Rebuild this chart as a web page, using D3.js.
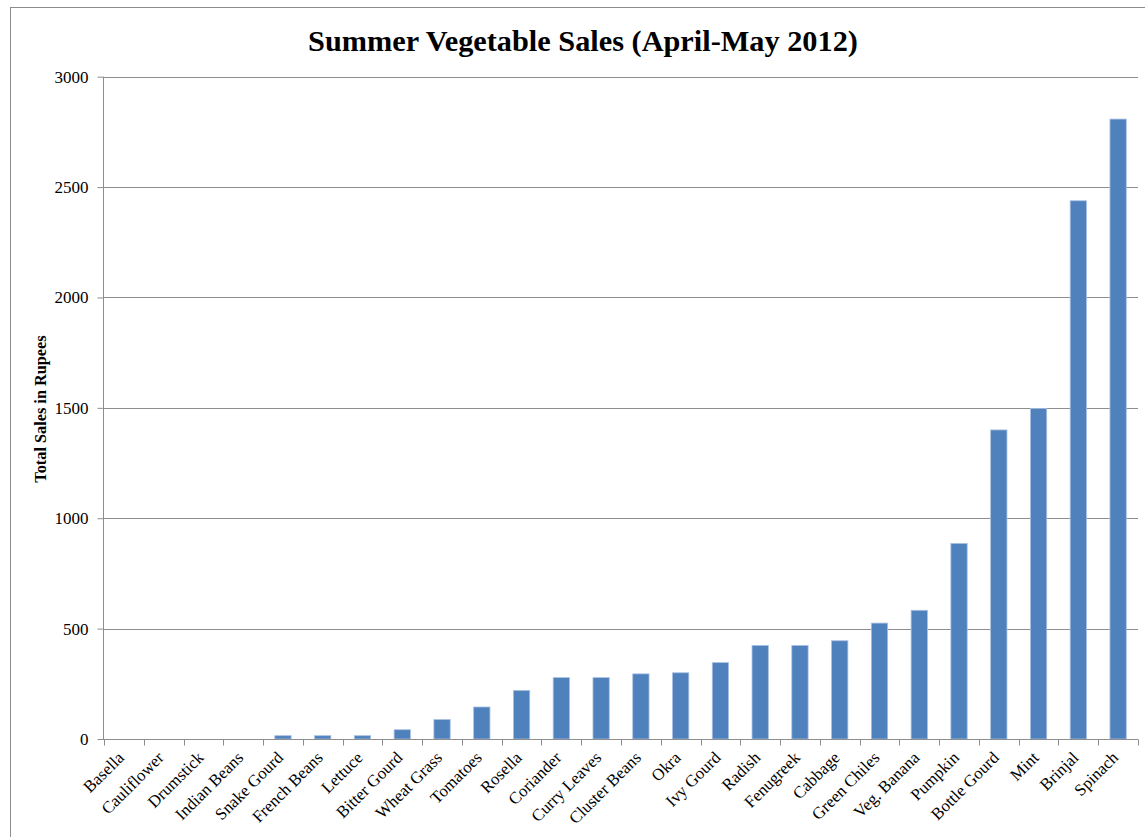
<!DOCTYPE html>
<html>
<head>
<meta charset="utf-8">
<script src="https://cdn.jsdelivr.net/npm/d3@7"></script>
<style>
  body { margin: 0; background: #fff; }
  svg text { font-family: "Liberation Serif", "Times New Roman", serif; }
</style>
</head>
<body>
<div class="graph-container"></div>
<script>
var vegetables = ['Basella', 'Cauliflower', 'Drumstick', 'Indian Beans', 'Snake Gourd', 'French Beans',
  'Lettuce', 'Bitter Gourd', 'Wheat Grass', 'Tomatoes', 'Rosella', 'Coriander', 'Curry Leaves',
  'Cluster Beans', 'Okra', 'Ivy Gourd', 'Radish', 'Fenugreek', 'Cabbage', 'Green Chiles',
  'Veg. Banana', 'Pumpkin', 'Bottle Gourd', 'Mint', 'Brinjal', 'Spinach'];
var sales = [0, 0, 0, 0, 15, 15, 15, 42, 88, 145, 220, 278, 278, 295, 300, 346, 424, 424, 445,
  525, 583, 886, 1400, 1497, 2438, 2808];
var yTicks = [0, 500, 1000, 1500, 2000, 2500, 3000];

var svgWidth = 1145;
var svgHeight = 837;
var plotLeft = 104;
var plotRight = 1138;
var plotTop = 76.7;
var plotBottom = 739;

var svg = d3.select('.graph-container').append('svg')
  .attr('width', svgWidth)
  .attr('height', svgHeight);

// chart border
svg.append('rect')
  .attr('x', 10.5)
  .attr('y', 7.5)
  .attr('width', 1200)
  .attr('height', 900)
  .attr('fill', 'none')
  .attr('stroke', '#8c8c8c')
  .attr('stroke-width', 1);

var xScale = d3.scaleBand()
  .domain(vegetables)
  .range([plotLeft, plotRight])
  .paddingInner(0.59)
  .paddingOuter(0.295);

var yScale = d3.scaleLinear()
  .domain([0, 3000])
  .range([plotBottom, plotTop]);

// gridlines
svg.append('g')
  .selectAll('line')
  .data(yTicks.slice(1))
  .enter()
  .append('line')
  .attr('x1', plotLeft)
  .attr('x2', plotRight)
  .attr('y1', function(d) { return Math.round(yScale(d)) + 0.5; })
  .attr('y2', function(d) { return Math.round(yScale(d)) + 0.5; })
  .attr('stroke', '#8e8e8e')
  .attr('stroke-width', 1);

// bars
svg.append('g')
  .selectAll('rect')
  .data(sales)
  .enter()
  .append('rect')
  .attr('x', function(d, i) { return xScale(vegetables[i]); })
  .attr('width', xScale.bandwidth())
  .attr('y', function(d) { return yScale(d); })
  .attr('height', function(d) { return plotBottom - yScale(d); })
  .attr('fill', '#4f81bd')
  .attr('stroke', function(d) { return d > 0 ? '#a9c1e2' : 'none'; })
  .attr('stroke-width', 0.8);

// y axis
var yAxis = d3.axisLeft(yScale)
  .tickValues(yTicks)
  .tickSize(6)
  .tickPadding(9)
  .tickFormat(d3.format('d'));
var yAxisG = svg.append('g')
  .attr('transform', 'translate(' + (plotLeft - 0.5) + ',0)')
  .call(yAxis);
yAxisG.select('.domain').attr('stroke', '#8e8e8e').attr('d', 'M0,' + plotTop + 'V' + plotBottom);
yAxisG.selectAll('.tick line').attr('stroke', '#8e8e8e');
yAxisG.selectAll('.tick text')
  .style('font-family', '"Liberation Serif", serif')
  .style('font-size', '17px')
  .attr('fill', '#000');

// x axis with boundary ticks
var xAxisG = svg.append('g')
  .attr('transform', 'translate(0,' + (plotBottom + 0.5) + ')');
xAxisG.append('line')
  .attr('x1', plotLeft - 6)
  .attr('x2', plotRight)
  .attr('stroke', '#8e8e8e');
var step = xScale.step();
var bounds = d3.range(vegetables.length + 1).map(function(i) {
  return plotLeft + i * step;
});
xAxisG.selectAll('.xtick')
  .data(bounds)
  .enter()
  .append('line')
  .attr('class', 'xtick')
  .attr('x1', function(d) { return Math.round(d) + 0.5; })
  .attr('x2', function(d) { return Math.round(d) + 0.5; })
  .attr('y1', 0)
  .attr('y2', 6)
  .attr('stroke', '#8e8e8e');

xAxisG.selectAll('.xlabel')
  .data(vegetables)
  .enter()
  .append('text')
  .attr('class', 'xlabel')
  .attr('transform', function(d) {
    return 'translate(' + (xScale(d) + xScale.bandwidth() / 2 - 3) + ',15) rotate(-45)';
  })
  .style('text-anchor', 'end')
  .style('font-size', '16.8px')
  .attr('dy', '0.35em')
  .text(function(d) { return d; });

// title
svg.append('text')
  .attr('x', 583)
  .attr('y', 51)
  .style('text-anchor', 'middle')
  .style('font-size', '30.3px')
  .style('font-weight', 'bold')
  .text('Summer Vegetable Sales (April-May 2012)');

// y axis label
svg.append('text')
  .attr('transform', 'translate(46,409) rotate(-90)')
  .style('text-anchor', 'middle')
  .style('font-size', '16.3px')
  .style('font-weight', 'bold')
  .text('Total Sales in Rupees');
</script>
</body>
</html>
